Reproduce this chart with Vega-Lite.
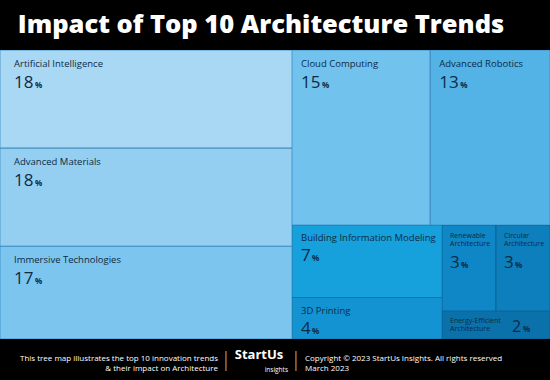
{
  "$schema": "https://vega.github.io/schema/vega-lite/v6.json",
  "background": "#000000",
  "padding": 0,
  "spacing": 0,
  "config": {"view": {"stroke": null}, "concat": {"spacing": 0}, "text": {"font": "Open Sans"}},
  "datasets": {
    "trends": [
      {"trend": "Artificial Intelligence", "label": "Artificial Intelligence", "value": 18, "block": "A", "order": 1},
      {"trend": "Advanced Materials", "label": "Advanced Materials", "value": 18, "block": "A", "order": 2},
      {"trend": "Immersive Technologies", "label": "Immersive Technologies", "value": 17, "block": "A", "order": 3},
      {"trend": "Cloud Computing", "label": "Cloud Computing", "value": 15, "block": "B1", "order": 4},
      {"trend": "Advanced Robotics", "label": "Advanced Robotics", "value": 13, "block": "B1", "order": 5},
      {"trend": "Building Information Modeling", "label": "Building Information Modeling", "value": 7, "block": "B2L", "order": 6},
      {"trend": "3D Printing", "label": "3D Printing", "value": 4, "block": "B2L", "order": 7},
      {"trend": "Renewable Architecture", "label": "Renewable\nArchitecture", "value": 3, "block": "B2R1", "order": 8},
      {"trend": "Circular Architecture", "label": "Circular\nArchitecture", "value": 3, "block": "B2R1", "order": 9},
      {"trend": "Energy-Efficient Architecture", "label": "Energy-Efficient\nArchitecture", "value": 2, "block": "B2R2", "order": 10}
    ],
    "footer": [
      {"slot": "left", "text": "This tree map illustrates the top 10 innovation trends\n& their impact on Architecture"},
      {"slot": "div", "text": "|"},
      {"slot": "logo", "text": "StartUs"},
      {"slot": "logo2", "text": "insights"},
      {"slot": "div2", "text": "|"},
      {"slot": "right", "text": "Copyright © 2023 StartUs Insights. All rights reserved\nMarch 2023"}
    ]
  },
  "vconcat": [
    {
      "width": 550, "height": 50,
      "data": {"values": [{"t": "Impact of Top 10 Architecture Trends"}]},
      "mark": {"type": "text", "color": "#ffffff", "fontSize": 25.5, "fontWeight": 800, "font": "Open Sans", "baseline": "alphabetic", "dx": -14, "dy": 8},
      "encoding": {"text": {"field": "t"}}
    },
    {
      "hconcat": [
        {
          "width": 292, "height": 289,
          "data": {"name": "trends"},
          "transform": [
            {"filter": "datum.block === 'A'"},
            {"stack": "value", "groupby": [], "sort": [{"field": "order", "order": "ascending"}], "offset": "normalize", "as": ["v0", "v1"]}
          ],
          "layer": [
            {"mark": {"type": "rect", "clip": true, "stroke": "#3b8dc2", "strokeWidth": 1, "strokeOpacity": 0.8},
             "encoding": {
               "x": {"datum": 0, "type": "quantitative", "scale": {"domain": [0, 1]}, "axis": null},
               "x2": {"datum": 1},
               "y": {"field": "v0", "type": "quantitative", "scale": {"domain": [0, 1], "reverse": true}, "axis": null},
               "y2": {"field": "v1"},
               "color": {"field": "trend", "type": "nominal", "legend": null, "scale": {"domain": ["Artificial Intelligence", "Advanced Materials", "Immersive Technologies", "Cloud Computing", "Advanced Robotics", "Building Information Modeling", "3D Printing", "Renewable Architecture", "Circular Architecture", "Energy-Efficient Architecture"], "range": ["#a9d8f4", "#94cff2", "#7bc5ef", "#72c2ee", "#53b2e6", "#16a0dc", "#1393d1", "#0f86c5", "#0d7fbd", "#0b71aa"]}}
             }},
            {"mark": {"type": "text", "align": "left", "baseline": "alphabetic", "dx": 14, "dy": 17, "fontSize": 9.5, "color": "#0d2b45"},
             "encoding": {"x": {"datum": 0, "type": "quantitative"}, "y": {"field": "v0", "type": "quantitative"}, "text": {"field": "label"}}},
            {"mark": {"type": "text", "align": "left", "baseline": "alphabetic", "dx": 14, "dy": 38, "fontSize": 17, "color": "#0d2b45"},
             "encoding": {"x": {"datum": 0, "type": "quantitative"}, "y": {"field": "v0", "type": "quantitative"}, "text": {"field": "value"}}},
            {"mark": {"type": "text", "align": "left", "baseline": "alphabetic", "dx": 35, "dy": 38, "fontSize": 8, "fontWeight": "bold", "color": "#0d2b45"},
             "encoding": {"x": {"datum": 0, "type": "quantitative"}, "y": {"field": "v0", "type": "quantitative"}, "text": {"value": "%"}}}
          ]
        },
        {
          "vconcat": [
            {
              "width": 258, "height": 175,
              "data": {"name": "trends"},
              "transform": [
                {"filter": "datum.block === 'B1'"},
                {"stack": "value", "groupby": [], "sort": [{"field": "order", "order": "ascending"}], "offset": "normalize", "as": ["v0", "v1"]}
              ],
              "layer": [
                {"mark": {"type": "rect", "clip": true, "stroke": "#3b8dc2", "strokeWidth": 1, "strokeOpacity": 0.8},
                 "encoding": {
                   "x": {"field": "v0", "type": "quantitative", "scale": {"domain": [0, 1]}, "axis": null},
                   "x2": {"field": "v1"},
                   "y": {"datum": 0, "type": "quantitative", "scale": {"domain": [0, 1], "reverse": true}, "axis": null},
                   "y2": {"datum": 1},
                   "color": {"field": "trend", "type": "nominal", "legend": null}
                 }},
                {"mark": {"type": "text", "align": "left", "baseline": "alphabetic", "dx": 9, "dy": 17, "fontSize": 9.5, "color": "#0d2b45"},
                 "encoding": {"x": {"field": "v0", "type": "quantitative"}, "y": {"datum": 0, "type": "quantitative"}, "text": {"field": "label"}}},
                {"mark": {"type": "text", "align": "left", "baseline": "alphabetic", "dx": 9, "dy": 38, "fontSize": 17, "color": "#0d2b45"},
                 "encoding": {"x": {"field": "v0", "type": "quantitative"}, "y": {"datum": 0, "type": "quantitative"}, "text": {"field": "value"}}},
                {"mark": {"type": "text", "align": "left", "baseline": "alphabetic", "dx": 30, "dy": 38, "fontSize": 8, "fontWeight": "bold", "color": "#0d2b45"},
                 "encoding": {"x": {"field": "v0", "type": "quantitative"}, "y": {"datum": 0, "type": "quantitative"}, "text": {"value": "%"}}}
              ]
            },
            {
              "hconcat": [
                {
                  "width": 150, "height": 114,
                  "data": {"name": "trends"},
                  "transform": [
                    {"filter": "datum.block === 'B2L'"},
                    {"stack": "value", "groupby": [], "sort": [{"field": "order", "order": "ascending"}], "offset": "normalize", "as": ["v0", "v1"]}
                  ],
                  "layer": [
                    {"mark": {"type": "rect", "clip": true, "stroke": "#1f6f9f", "strokeWidth": 1, "strokeOpacity": 0.8},
                     "encoding": {
                       "x": {"datum": 0, "type": "quantitative", "scale": {"domain": [0, 1]}, "axis": null},
                       "x2": {"datum": 1},
                       "y": {"field": "v0", "type": "quantitative", "scale": {"domain": [0, 1], "reverse": true}, "axis": null},
                       "y2": {"field": "v1"},
                       "color": {"field": "trend", "type": "nominal", "legend": null}
                     }},
                    {"mark": {"type": "text", "align": "left", "baseline": "alphabetic", "dx": 9, "dy": 16, "fontSize": 9.5, "color": "#0d2b45"},
                     "encoding": {"x": {"datum": 0, "type": "quantitative"}, "y": {"field": "v0", "type": "quantitative"}, "text": {"field": "label"}}},
                    {"mark": {"type": "text", "align": "left", "baseline": "alphabetic", "dx": 9, "dy": 36, "fontSize": 17, "color": "#0d2b45"},
                     "encoding": {"x": {"datum": 0, "type": "quantitative"}, "y": {"field": "v0", "type": "quantitative"}, "text": {"field": "value"}}},
                    {"mark": {"type": "text", "align": "left", "baseline": "alphabetic", "dx": 20, "dy": 36, "fontSize": 8, "fontWeight": "bold", "color": "#0d2b45"},
                     "encoding": {"x": {"datum": 0, "type": "quantitative"}, "y": {"field": "v0", "type": "quantitative"}, "text": {"value": "%"}}}
                  ]
                },
                {
                  "vconcat": [
                    {
                      "width": 108, "height": 86,
                      "data": {"name": "trends"},
                      "transform": [
                        {"filter": "datum.block === 'B2R1'"},
                        {"stack": "value", "groupby": [], "sort": [{"field": "order", "order": "ascending"}], "offset": "normalize", "as": ["v0", "v1"]}
                      ],
                      "layer": [
                        {"mark": {"type": "rect", "clip": true, "stroke": "#0a5f90", "strokeWidth": 1, "strokeOpacity": 0.8},
                         "encoding": {
                           "x": {"field": "v0", "type": "quantitative", "scale": {"domain": [0, 1]}, "axis": null},
                           "x2": {"field": "v1"},
                           "y": {"datum": 0, "type": "quantitative", "scale": {"domain": [0, 1], "reverse": true}, "axis": null},
                           "y2": {"datum": 1},
                           "color": {"field": "trend", "type": "nominal", "legend": null}
                         }},
                        {"mark": {"type": "text", "align": "left", "baseline": "top", "lineBreak": "\n", "lineHeight": 8, "dx": 8, "dy": 7, "fontSize": 7, "color": "#0d2b45"},
                         "encoding": {"x": {"field": "v0", "type": "quantitative"}, "y": {"datum": 0, "type": "quantitative"}, "text": {"field": "label"}}},
                        {"mark": {"type": "text", "align": "left", "baseline": "alphabetic", "dx": 8, "dy": 43, "fontSize": 17, "color": "#0d2b45"},
                         "encoding": {"x": {"field": "v0", "type": "quantitative"}, "y": {"datum": 0, "type": "quantitative"}, "text": {"field": "value"}}},
                        {"mark": {"type": "text", "align": "left", "baseline": "alphabetic", "dx": 19, "dy": 43, "fontSize": 8, "fontWeight": "bold", "color": "#0d2b45"},
                         "encoding": {"x": {"field": "v0", "type": "quantitative"}, "y": {"datum": 0, "type": "quantitative"}, "text": {"value": "%"}}}
                      ]
                    },
                    {
                      "width": 108, "height": 28,
                      "data": {"name": "trends"},
                      "transform": [
                        {"filter": "datum.block === 'B2R2'"},
                        {"stack": "value", "groupby": [], "sort": [{"field": "order", "order": "ascending"}], "offset": "normalize", "as": ["v0", "v1"]}
                      ],
                      "layer": [
                        {"mark": {"type": "rect", "clip": true, "stroke": "#0a5f90", "strokeWidth": 1, "strokeOpacity": 0.8},
                         "encoding": {
                           "x": {"field": "v0", "type": "quantitative", "scale": {"domain": [0, 1]}, "axis": null},
                           "x2": {"field": "v1"},
                           "y": {"datum": 0, "type": "quantitative", "scale": {"domain": [0, 1], "reverse": true}, "axis": null},
                           "y2": {"datum": 1},
                           "color": {"field": "trend", "type": "nominal", "legend": null}
                         }},
                        {"mark": {"type": "text", "align": "left", "baseline": "top", "lineBreak": "\n", "lineHeight": 8, "dx": 8, "dy": 6, "fontSize": 7, "color": "#0d2b45"},
                         "encoding": {"x": {"field": "v0", "type": "quantitative"}, "y": {"datum": 0, "type": "quantitative"}, "text": {"field": "label"}}},
                        {"mark": {"type": "text", "align": "left", "baseline": "alphabetic", "dx": 70, "dy": 21, "fontSize": 16, "color": "#0d2b45"},
                         "encoding": {"x": {"field": "v0", "type": "quantitative"}, "y": {"datum": 0, "type": "quantitative"}, "text": {"field": "value"}}},
                        {"mark": {"type": "text", "align": "left", "baseline": "alphabetic", "dx": 81, "dy": 21, "fontSize": 8, "fontWeight": "bold", "color": "#0d2b45"},
                         "encoding": {"x": {"field": "v0", "type": "quantitative"}, "y": {"datum": 0, "type": "quantitative"}, "text": {"value": "%"}}}
                      ]
                    }
                  ],
                  "spacing": 0
                }
              ],
              "spacing": 0
            }
          ],
          "spacing": 0
        }
      ],
      "spacing": 0
    },
    {
      "width": 550, "height": 41,
      "data": {"name": "footer"},
      "layer": [
        {"transform": [{"filter": "datum.slot === 'left'"}],
         "mark": {"type": "text", "align": "right", "baseline": "middle", "lineBreak": "\n", "lineHeight": 10, "fontSize": 8, "color": "#ffffff", "dx": -57, "dy": -1},
         "encoding": {"text": {"field": "text"}}},
        {"transform": [{"filter": "datum.slot === 'div'"}],
         "mark": {"type": "text", "align": "center", "baseline": "middle", "fontSize": 20, "fontWeight": 300, "color": "#bbbbbb", "dx": -49},
         "encoding": {"text": {"field": "text"}}},
        {"transform": [{"filter": "datum.slot === 'div2'"}],
         "mark": {"type": "text", "align": "center", "baseline": "middle", "fontSize": 20, "fontWeight": 300, "color": "#bbbbbb", "dx": 21},
         "encoding": {"text": {"field": "text"}}},
        {"transform": [{"filter": "datum.slot === 'logo'"}],
         "mark": {"type": "text", "align": "center", "baseline": "alphabetic", "fontSize": 13, "fontWeight": "bold", "color": "#ffffff", "dx": -16, "dy": -1},
         "encoding": {"text": {"field": "text"}}},
        {"transform": [{"filter": "datum.slot === 'logo2'"}],
         "mark": {"type": "text", "align": "right", "baseline": "top", "fontSize": 6.5, "color": "#ffffff", "dx": 13, "dy": 7},
         "encoding": {"text": {"field": "text"}}},
        {"transform": [{"filter": "datum.slot === 'right'"}],
         "mark": {"type": "text", "align": "left", "baseline": "middle", "lineBreak": "\n", "lineHeight": 10, "fontSize": 8, "color": "#ffffff", "dx": 30, "dy": -1},
         "encoding": {"text": {"field": "text"}}}
      ]
    }
  ]
}
